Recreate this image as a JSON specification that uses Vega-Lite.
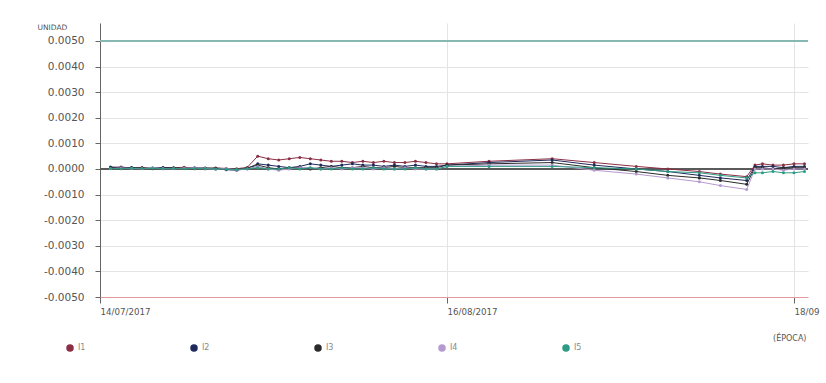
{
  "$schema": "https://vega.github.io/schema/vega-lite/v6.json",
  "autosize": {"type": "none"},
  "width": 708,
  "height": 274,
  "padding": {"left": 100, "top": 23, "right": 18, "bottom": 86},
  "background": "white",
  "config": {
    "view": {"stroke": null},
    "font": "DejaVu Sans",
    "axis": {"labelFont": "DejaVu Sans", "titleFont": "DejaVu Sans"},
    "legend": {"labelFont": "DejaVu Sans"}
  },
  "data": {
    "values": [
      {"t": "2017/07/15", "I1": 0.00005, "I2": 0.00008, "I3": 0.00003, "I4": 0.00001, "I5": 0.00002},
      {"t": "2017/07/16", "I1": 0.00008, "I2": 0.00005, "I3": 0.00002, "I4": 0.00004, "I5": 0.00001},
      {"t": "2017/07/17", "I1": 0.00003, "I2": 0.00006, "I3": 0.00005, "I4": 0.00002, "I5": 0.00003},
      {"t": "2017/07/18", "I1": 0.00006, "I2": 0.00002, "I3": 0.00004, "I4": 0.00001, "I5": 0.00002},
      {"t": "2017/07/19", "I1": 0.00002, "I2": 0.00004, "I3": 0.00001, "I4": 0.00005, "I5": 0.00003},
      {"t": "2017/07/20", "I1": 0.00005, "I2": 0.00006, "I3": 0.00003, "I4": 0.00002, "I5": 0.00001},
      {"t": "2017/07/21", "I1": 0.00004, "I2": 0.00003, "I3": 0.00005, "I4": 0.00001, "I5": 0.00002},
      {"t": "2017/07/22", "I1": 0.00007, "I2": 0.00002, "I3": 0.00002, "I4": 0.00003, "I5": 0.00001},
      {"t": "2017/07/23", "I1": 0.00003, "I2": 0.00005, "I3": 0.00001, "I4": 0.00004, "I5": 0.00002},
      {"t": "2017/07/24", "I1": 0.00001, "I2": 0.00003, "I3": 0.00004, "I4": 0.00002, "I5": 0.00001},
      {"t": "2017/07/25", "I1": 0.00004, "I2": 0.00001, "I3": 0.00003, "I4": -0.00001, "I5": 0},
      {"t": "2017/07/26", "I1": 0.00002, "I2": -0.00003, "I3": 0.00001, "I4": 0.00002, "I5": -0.00001},
      {"t": "2017/07/27", "I1": 0.00001, "I2": -0.00005, "I3": -0.00002, "I4": -0.00004, "I5": -0.00002},
      {"t": "2017/07/28", "I1": 0.00006, "I2": 0.00002, "I3": 0.00004, "I4": 0, "I5": 0.00001},
      {"t": "2017/07/29", "I1": 0.0005, "I2": 0.0002, "I3": 0.00015, "I4": 0.0001, "I5": 0.00005},
      {"t": "2017/07/30", "I1": 0.0004, "I2": 0.00015, "I3": 0.00005, "I4": 0, "I5": 0},
      {"t": "2017/07/31", "I1": 0.00035, "I2": 0.0001, "I3": 0, "I4": -0.00005, "I5": 0},
      {"t": "2017/08/01", "I1": 0.0004, "I2": 0.00005, "I3": 0.00005, "I4": 0, "I5": 0.00005},
      {"t": "2017/08/02", "I1": 0.00045, "I2": 0.0001, "I3": 0.00005, "I4": 0.00005, "I5": 0},
      {"t": "2017/08/03", "I1": 0.0004, "I2": 0.0002, "I3": 0, "I4": 0.00005, "I5": 0.00005},
      {"t": "2017/08/04", "I1": 0.00035, "I2": 0.00015, "I3": 0.00005, "I4": 0, "I5": 0},
      {"t": "2017/08/05", "I1": 0.0003, "I2": 0.0001, "I3": 0.0001, "I4": 0.00005, "I5": 0},
      {"t": "2017/08/06", "I1": 0.0003, "I2": 0.00015, "I3": 0.00005, "I4": 0, "I5": 0.00005},
      {"t": "2017/08/07", "I1": 0.00025, "I2": 0.0002, "I3": 0.00005, "I4": 0.00005, "I5": 0},
      {"t": "2017/08/08", "I1": 0.0003, "I2": 0.00015, "I3": 0.0001, "I4": 0.00005, "I5": 0},
      {"t": "2017/08/09", "I1": 0.00025, "I2": 0.00015, "I3": 0.00005, "I4": 0, "I5": 0.00005},
      {"t": "2017/08/10", "I1": 0.0003, "I2": 0.0001, "I3": 0.00005, "I4": 0.00005, "I5": 0},
      {"t": "2017/08/11", "I1": 0.00025, "I2": 0.00015, "I3": 0.0001, "I4": 0, "I5": 0},
      {"t": "2017/08/12", "I1": 0.00025, "I2": 0.0001, "I3": 0.00005, "I4": 0.00005, "I5": 0},
      {"t": "2017/08/13", "I1": 0.0003, "I2": 0.00015, "I3": 0.00005, "I4": 0, "I5": 0.00005},
      {"t": "2017/08/14", "I1": 0.00025, "I2": 0.0001, "I3": 0.00005, "I4": 0, "I5": 0},
      {"t": "2017/08/15", "I1": 0.0002, "I2": 0.0001, "I3": 0.00005, "I4": 0, "I5": 0},
      {"t": "2017/08/16", "I1": 0.0002, "I2": 0.00015, "I3": 0.00015, "I4": 0.0001, "I5": 0.0001},
      {"t": "2017/08/20", "I1": 0.0003, "I2": 0.00025, "I3": 0.0002, "I4": 0.00015, "I5": 0.0001},
      {"t": "2017/08/26", "I1": 0.0004, "I2": 0.00035, "I3": 0.00025, "I4": 0.00015, "I5": 0.0001},
      {"t": "2017/08/30", "I1": 0.00025, "I2": 0.00015, "I3": 0.00005, "I4": -0.00005, "I5": 0.00005},
      {"t": "2017/09/03", "I1": 0.0001, "I2": 0, "I3": -0.0001, "I4": -0.0002, "I5": 0},
      {"t": "2017/09/06", "I1": 0, "I2": -0.0001, "I3": -0.00025, "I4": -0.00035, "I5": -0.0001},
      {"t": "2017/09/09", "I1": -0.0001, "I2": -0.00025, "I3": -0.00035, "I4": -0.0005, "I5": -0.00015},
      {"t": "2017/09/11", "I1": -0.0002, "I2": -0.00035, "I3": -0.00045, "I4": -0.00065, "I5": -0.00025},
      {"t": "2017/09/13 12:00", "I1": -0.0003, "I2": -0.00045, "I3": -0.0006, "I4": -0.0008, "I5": -0.00035},
      {"t": "2017/09/14 07:00", "I1": 0.00015, "I2": 0.0001, "I3": 0.00005, "I4": 0, "I5": -0.00015},
      {"t": "2017/09/15", "I1": 0.0002, "I2": 0.0001, "I3": 0.00005, "I4": 0, "I5": -0.00015},
      {"t": "2017/09/16", "I1": 0.00015, "I2": 0.0001, "I3": 0, "I4": 0, "I5": -0.0001},
      {"t": "2017/09/17", "I1": 0.00015, "I2": 0.00005, "I3": 0.00005, "I4": -0.00005, "I5": -0.00015},
      {"t": "2017/09/18", "I1": 0.0002, "I2": 0.0001, "I3": 0.00005, "I4": 0, "I5": -0.00015},
      {"t": "2017/09/19", "I1": 0.0002, "I2": 0.0001, "I3": 0.00005, "I4": 0, "I5": -0.0001}
    ]
  },
  "transform": [{"fold": ["I1", "I2", "I3", "I4", "I5"], "as": ["serie", "valor"]}],
  "layer": [
    {
      "mark": {"type": "rule", "color": "#86b9b2", "strokeWidth": 1},
      "encoding": {"y": {"datum": 0.005, "type": "quantitative"}}
    },
    {
      "mark": {"type": "rule", "color": "#5a5a5a", "strokeWidth": 1},
      "encoding": {"y": {"datum": 0, "type": "quantitative"}}
    },
    {
      "mark": {"type": "line", "strokeWidth": 1, "point": {"filled": true, "size": 9}},
      "encoding": {
        "x": {
          "field": "t",
          "type": "temporal",
          "scale": {"domain": [{"year": 2017, "month": 7, "date": 14}, {"year": 2017, "month": 9, "date": 19, "hours": 8}]},
          "axis": {
            "values": [{"year": 2017, "month": 7, "date": 14}, {"year": 2017, "month": 8, "date": 16}, {"year": 2017, "month": 9, "date": 18}],
            "tickCount": 3,
            "format": "%d/%m/%Y",
            "labelExpr": "timeFormat(datum.value, '%m') == '09' ? '18/09' : datum.label",
            "labelAlign": "left",
            "labelDx": -6,
            "labelFontSize": 8.7,
            "labelColor": "#555",
            "labelPadding": 4,
            "labelOverlap": false,
            "grid": true,
            "gridColor": "#e4e4e4",
            "domainColor": "#e39a9a",
            "tickColor": "#666",
            "tickSize": 6,
            "title": "(ÉPOCA)",
            "titleFontSize": 8,
            "titleFontWeight": "normal",
            "titleColor": "#555",
            "titleAlign": "right",
            "titleBaseline": "middle",
            "titleX": 706,
            "titleY": 41
          }
        },
        "y": {
          "field": "valor",
          "type": "quantitative",
          "scale": {"domain": [-0.005, 0.0057], "nice": false, "zero": false},
          "axis": {
            "values": [-0.005, -0.004, -0.003, -0.002, -0.001, 0, 0.001, 0.002, 0.003, 0.004, 0.005],
            "tickCount": 11,
            "labelExpr": "replace(format(datum.value, '.4f'), '\u2212', '-')",
            "labelFontSize": 10.5,
            "labelColor": "#555",
            "labelPadding": 11,
            "labelOverlap": false,
            "grid": true,
            "gridColor": "#e4e4e4",
            "domainColor": "#666",
            "tickColor": "#666",
            "tickSize": 5,
            "title": "UNIDAD",
            "titleAngle": 0,
            "titleFontSize": 7.5,
            "titleFontWeight": "normal",
            "titleColor": "#555",
            "titleAlign": "left",
            "titleBaseline": "middle",
            "titleX": -63,
            "titleY": 4
          }
        },
        "color": {
          "field": "serie",
          "type": "nominal",
          "scale": {"domain": ["I1", "I2", "I3", "I4", "I5"], "range": ["#8b2f45", "#1f2a5c", "#2b2b2b", "#b59ad0", "#2e9c84"]},
          "legend": {
            "title": null,
            "orient": "none",
            "direction": "horizontal",
            "legendX": -34,
            "legendY": 321,
            "columnPadding": 102,
            "symbolType": "circle",
            "symbolSize": 36,
            "labelFontSize": 8,
            "labelColor": "#888"
          }
        }
      }
    }
  ]
}
